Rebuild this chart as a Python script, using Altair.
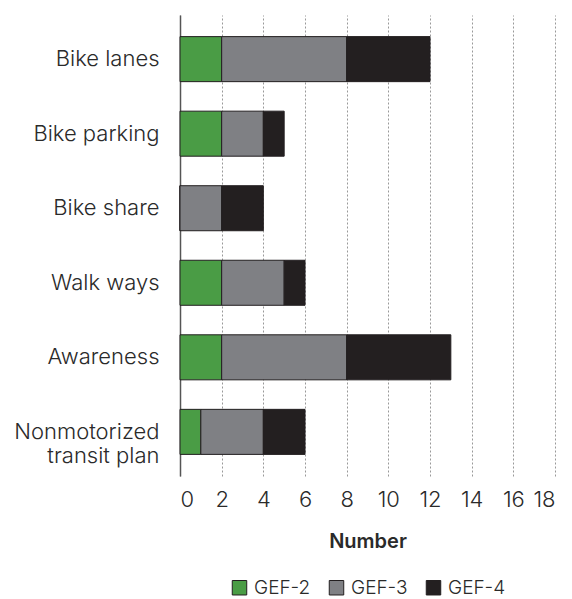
import altair as alt
import pandas as pd

categories = ["Bike lanes", "Bike parking", "Bike share", "Walk ways", "Awareness", "Nonmotorized transit plan"]
series = ["GEF-2", "GEF-3", "GEF-4"]
gef2 = [2, 2, 0, 2, 2, 1]
gef3 = [6, 2, 2, 3, 6, 3]
gef4 = [4, 1, 2, 1, 5, 2]
colors = ["#4a9c45", "#7f8084", "#231f20"]
x_ticks = list(range(0, 19, 2))

rows = []
for i, c in enumerate(categories):
    for j, (s, vals) in enumerate(zip(series, [gef2, gef3, gef4])):
        rows.append({"category": c, "series": s, "value": vals[i], "order": j})
df = pd.DataFrame(rows)

FONT = "Inter"
TXT = "#2a2a2a"

chart = alt.Chart(df).mark_bar(stroke="#231f20", strokeWidth=1).encode(
    y=alt.Y("category:N", sort=categories,
            scale=alt.Scale(paddingInner=0.396, paddingOuter=0.29),
            axis=alt.Axis(title=None, ticks=False, domain=True, domainColor="#555555",
                          domainWidth=1.5, labelFontSize=22, labelFont=FONT,
                          labelFontWeight=300, labelColor=TXT, labelPadding=21,
                          labelLineHeight=24, labelLimit=200,
                          labelExpr="datum.label == 'Nonmotorized transit plan' ? ['Nonmotorized', 'transit plan'] : datum.label")),
    x=alt.X("value:Q", stack="zero",
            scale=alt.Scale(domain=[0, 18], nice=False),
            axis=alt.Axis(title="Number", values=x_ticks, ticks=False, domain=False,
                          grid=True, gridDash=[2, 2], gridColor="#999999", gridWidth=1,
                          labelFontSize=22, labelFont=FONT, labelFontWeight=300,
                          labelColor=TXT, labelPadding=13,
                          titleFont=FONT, titleFontSize=20, titleFontWeight=600,
                          titleColor=TXT, titlePadding=21)),
    color=alt.Color("series:N", sort=series,
                    scale=alt.Scale(domain=series, range=colors),
                    legend=alt.Legend(title=None, orient="none", direction="horizontal",
                                      legendX=50, legendY=563,
                                      symbolType="square", symbolSize=210,
                                      symbolStrokeColor="#231f20", symbolStrokeWidth=1,
                                      labelFont=FONT, labelFontSize=19, labelFontWeight=300,
                                      labelColor=TXT, labelOffset=5,
                                      columnPadding=16)),
    order=alt.Order("order:Q"),
).properties(
    width=375, height=461,
    autosize=alt.AutoSizeParams(type="none"),
    padding={"left": 172, "top": 7, "right": 9, "bottom": 123},
).configure_view(stroke=None).configure_axisX(gridOpacity=1)

chart.save("out.html", embed_options={"renderer": "svg", "actions": False})
